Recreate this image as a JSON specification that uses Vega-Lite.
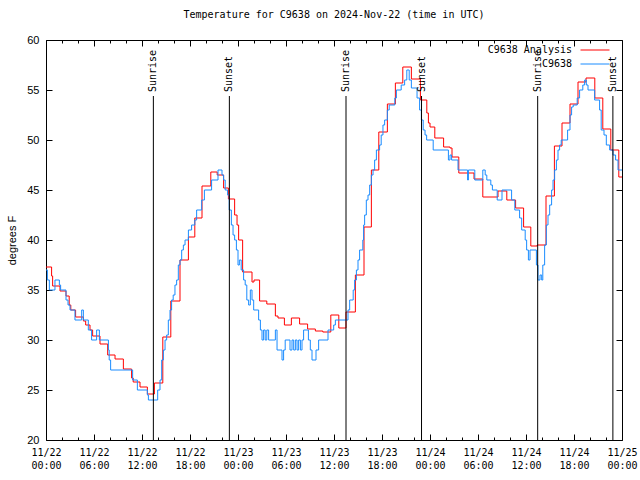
{
  "$schema": "https://vega.github.io/schema/vega-lite/v6.json",
  "width": 576,
  "height": 400,
  "autosize": {"type": "none"},
  "padding": {"left": 46, "top": 40, "right": 18, "bottom": 40},
  "background": "white",
  "title": {"text": "Temperature for C9638 on 2024-Nov-22 (time in UTC)", "font": "DejaVu Sans Mono", "fontSize": 10, "fontWeight": "normal", "color": "black", "offset": 14, "anchor": "middle"},
  "config": {
    "view": {"stroke": "black", "strokeWidth": 1},
    "axis": {"grid": false, "domain": false, "tickColor": "black", "labelColor": "black", "titleColor": "black"}
  },
  "datasets": {
    "analysis": [
      {"series": "C9638 Analysis", "hour": 0, "temp": 37.3},
      {"series": "C9638 Analysis", "hour": 0.7, "temp": 36.4},
      {"series": "C9638 Analysis", "hour": 0.83, "temp": 35.4},
      {"series": "C9638 Analysis", "hour": 1.75, "temp": 34.9},
      {"series": "C9638 Analysis", "hour": 2.5, "temp": 34.4},
      {"series": "C9638 Analysis", "hour": 2.9, "temp": 33.5},
      {"series": "C9638 Analysis", "hour": 3.1, "temp": 33.0},
      {"series": "C9638 Analysis", "hour": 3.7, "temp": 32.3},
      {"series": "C9638 Analysis", "hour": 4.67, "temp": 31.9},
      {"series": "C9638 Analysis", "hour": 4.96, "temp": 31.5},
      {"series": "C9638 Analysis", "hour": 5.5, "temp": 31.0},
      {"series": "C9638 Analysis", "hour": 5.83, "temp": 30.4},
      {"series": "C9638 Analysis", "hour": 6.75, "temp": 29.6},
      {"series": "C9638 Analysis", "hour": 7.71, "temp": 28.5},
      {"series": "C9638 Analysis", "hour": 8.63, "temp": 28.1},
      {"series": "C9638 Analysis", "hour": 9.67, "temp": 27.1},
      {"series": "C9638 Analysis", "hour": 10.7, "temp": 26.2},
      {"series": "C9638 Analysis", "hour": 10.9, "temp": 25.8},
      {"series": "C9638 Analysis", "hour": 11.75, "temp": 25.3},
      {"series": "C9638 Analysis", "hour": 12.67, "temp": 24.6},
      {"series": "C9638 Analysis", "hour": 13.55, "temp": 25.7},
      {"series": "C9638 Analysis", "hour": 14.6, "temp": 30.3},
      {"series": "C9638 Analysis", "hour": 15.6, "temp": 33.9},
      {"series": "C9638 Analysis", "hour": 16.75, "temp": 38.0},
      {"series": "C9638 Analysis", "hour": 17.8, "temp": 40.3},
      {"series": "C9638 Analysis", "hour": 18.6, "temp": 42.2},
      {"series": "C9638 Analysis", "hour": 19.5, "temp": 45.4},
      {"series": "C9638 Analysis", "hour": 20.6, "temp": 46.8},
      {"series": "C9638 Analysis", "hour": 21.4, "temp": 46.5},
      {"series": "C9638 Analysis", "hour": 22.2, "temp": 45.2},
      {"series": "C9638 Analysis", "hour": 22.8, "temp": 44.1},
      {"series": "C9638 Analysis", "hour": 23.58, "temp": 42.5},
      {"series": "C9638 Analysis", "hour": 23.88, "temp": 41.5},
      {"series": "C9638 Analysis", "hour": 24.08, "temp": 40.0},
      {"series": "C9638 Analysis", "hour": 24.58, "temp": 36.8},
      {"series": "C9638 Analysis", "hour": 25.75, "temp": 35.8},
      {"series": "C9638 Analysis", "hour": 26.0, "temp": 36.0},
      {"series": "C9638 Analysis", "hour": 26.7, "temp": 33.9},
      {"series": "C9638 Analysis", "hour": 27.6, "temp": 33.6},
      {"series": "C9638 Analysis", "hour": 28.67, "temp": 32.4},
      {"series": "C9638 Analysis", "hour": 29.0, "temp": 32.2},
      {"series": "C9638 Analysis", "hour": 29.8, "temp": 31.5},
      {"series": "C9638 Analysis", "hour": 30.67, "temp": 32.2},
      {"series": "C9638 Analysis", "hour": 31.7, "temp": 31.6},
      {"series": "C9638 Analysis", "hour": 32.7, "temp": 31.1},
      {"series": "C9638 Analysis", "hour": 33.67, "temp": 30.9},
      {"series": "C9638 Analysis", "hour": 34.6, "temp": 30.8},
      {"series": "C9638 Analysis", "hour": 35.6, "temp": 32.5},
      {"series": "C9638 Analysis", "hour": 36.6, "temp": 31.2},
      {"series": "C9638 Analysis", "hour": 37.5, "temp": 32.8},
      {"series": "C9638 Analysis", "hour": 38.67, "temp": 36.5},
      {"series": "C9638 Analysis", "hour": 39.75, "temp": 41.3},
      {"series": "C9638 Analysis", "hour": 40.67, "temp": 47.0},
      {"series": "C9638 Analysis", "hour": 41.6, "temp": 50.8},
      {"series": "C9638 Analysis", "hour": 42.67, "temp": 53.6},
      {"series": "C9638 Analysis", "hour": 43.67, "temp": 55.7},
      {"series": "C9638 Analysis", "hour": 44.6, "temp": 57.3},
      {"series": "C9638 Analysis", "hour": 45.67, "temp": 56.1},
      {"series": "C9638 Analysis", "hour": 46.8, "temp": 54.0},
      {"series": "C9638 Analysis", "hour": 47.6, "temp": 52.7},
      {"series": "C9638 Analysis", "hour": 47.8, "temp": 51.7},
      {"series": "C9638 Analysis", "hour": 48.0, "temp": 51.3},
      {"series": "C9638 Analysis", "hour": 48.6, "temp": 50.2},
      {"series": "C9638 Analysis", "hour": 49.7, "temp": 49.3},
      {"series": "C9638 Analysis", "hour": 50.5, "temp": 49.2},
      {"series": "C9638 Analysis", "hour": 50.75, "temp": 48.3},
      {"series": "C9638 Analysis", "hour": 51.6, "temp": 46.7},
      {"series": "C9638 Analysis", "hour": 53.5, "temp": 46.1},
      {"series": "C9638 Analysis", "hour": 54.6, "temp": 44.3},
      {"series": "C9638 Analysis", "hour": 56.5, "temp": 44.9},
      {"series": "C9638 Analysis", "hour": 57.6, "temp": 44.0},
      {"series": "C9638 Analysis", "hour": 58.7, "temp": 43.2},
      {"series": "C9638 Analysis", "hour": 59.7, "temp": 41.3},
      {"series": "C9638 Analysis", "hour": 60.6, "temp": 39.4},
      {"series": "C9638 Analysis", "hour": 61.4, "temp": 39.5},
      {"series": "C9638 Analysis", "hour": 62.5, "temp": 44.4},
      {"series": "C9638 Analysis", "hour": 63.55, "temp": 49.4},
      {"series": "C9638 Analysis", "hour": 64.5, "temp": 51.7},
      {"series": "C9638 Analysis", "hour": 65.5, "temp": 53.6},
      {"series": "C9638 Analysis", "hour": 66.5, "temp": 55.8},
      {"series": "C9638 Analysis", "hour": 67.5, "temp": 56.2},
      {"series": "C9638 Analysis", "hour": 68.6, "temp": 54.2},
      {"series": "C9638 Analysis", "hour": 69.6, "temp": 51.1},
      {"series": "C9638 Analysis", "hour": 70.6, "temp": 49.0},
      {"series": "C9638 Analysis", "hour": 71.6, "temp": 46.3},
      {"series": "C9638 Analysis", "hour": 72, "temp": 46.3}
    ],
    "obs": [
      {"series": "C9638", "hour": 0, "temp": 37},
      {"series": "C9638", "hour": 0.17, "temp": 36},
      {"series": "C9638", "hour": 0.42, "temp": 35},
      {"series": "C9638", "hour": 1.12, "temp": 36},
      {"series": "C9638", "hour": 1.67, "temp": 35.5},
      {"series": "C9638", "hour": 1.83, "temp": 35},
      {"series": "C9638", "hour": 2.5, "temp": 34},
      {"series": "C9638", "hour": 2.75, "temp": 33.5},
      {"series": "C9638", "hour": 3.0, "temp": 33},
      {"series": "C9638", "hour": 3.62, "temp": 32},
      {"series": "C9638", "hour": 4.46, "temp": 33},
      {"series": "C9638", "hour": 4.67, "temp": 32},
      {"series": "C9638", "hour": 5.29, "temp": 31},
      {"series": "C9638", "hour": 5.7, "temp": 30},
      {"series": "C9638", "hour": 6.33, "temp": 31},
      {"series": "C9638", "hour": 6.67, "temp": 30},
      {"series": "C9638", "hour": 7.8, "temp": 29},
      {"series": "C9638", "hour": 7.9, "temp": 28},
      {"series": "C9638", "hour": 8.08, "temp": 27},
      {"series": "C9638", "hour": 10.83, "temp": 26},
      {"series": "C9638", "hour": 11.42, "temp": 25},
      {"series": "C9638", "hour": 12.67, "temp": 24.5},
      {"series": "C9638", "hour": 12.8, "temp": 24},
      {"series": "C9638", "hour": 13.96, "temp": 25},
      {"series": "C9638", "hour": 14.25, "temp": 26},
      {"series": "C9638", "hour": 14.46, "temp": 28},
      {"series": "C9638", "hour": 14.67, "temp": 29},
      {"series": "C9638", "hour": 14.88, "temp": 30},
      {"series": "C9638", "hour": 15.08, "temp": 30.5},
      {"series": "C9638", "hour": 15.29, "temp": 32},
      {"series": "C9638", "hour": 15.5, "temp": 33},
      {"series": "C9638", "hour": 15.7, "temp": 34},
      {"series": "C9638", "hour": 15.9, "temp": 34.5},
      {"series": "C9638", "hour": 16.12, "temp": 35.5},
      {"series": "C9638", "hour": 16.33, "temp": 36},
      {"series": "C9638", "hour": 16.54, "temp": 37.5},
      {"series": "C9638", "hour": 16.75, "temp": 38},
      {"series": "C9638", "hour": 16.96, "temp": 39},
      {"series": "C9638", "hour": 17.17, "temp": 39.5},
      {"series": "C9638", "hour": 17.38, "temp": 40},
      {"series": "C9638", "hour": 17.8, "temp": 41},
      {"series": "C9638", "hour": 18.2, "temp": 41.5},
      {"series": "C9638", "hour": 18.6, "temp": 42},
      {"series": "C9638", "hour": 18.83, "temp": 43},
      {"series": "C9638", "hour": 19.46, "temp": 44},
      {"series": "C9638", "hour": 19.8, "temp": 45},
      {"series": "C9638", "hour": 20.7, "temp": 46},
      {"series": "C9638", "hour": 21.5, "temp": 47},
      {"series": "C9638", "hour": 22.0, "temp": 46.5},
      {"series": "C9638", "hour": 22.2, "temp": 46},
      {"series": "C9638", "hour": 22.4, "temp": 45},
      {"series": "C9638", "hour": 22.7, "temp": 44.5},
      {"series": "C9638", "hour": 22.9, "temp": 43},
      {"series": "C9638", "hour": 23.17, "temp": 41.5},
      {"series": "C9638", "hour": 23.38, "temp": 40.5},
      {"series": "C9638", "hour": 23.58, "temp": 40},
      {"series": "C9638", "hour": 23.8, "temp": 39},
      {"series": "C9638", "hour": 24.0, "temp": 37.5},
      {"series": "C9638", "hour": 24.17, "temp": 38},
      {"series": "C9638", "hour": 24.4, "temp": 37},
      {"series": "C9638", "hour": 24.7, "temp": 36},
      {"series": "C9638", "hour": 24.9, "temp": 35.5},
      {"series": "C9638", "hour": 25.1, "temp": 34},
      {"series": "C9638", "hour": 25.33, "temp": 33.5},
      {"series": "C9638", "hour": 25.54, "temp": 35},
      {"series": "C9638", "hour": 25.75, "temp": 34},
      {"series": "C9638", "hour": 25.96, "temp": 33},
      {"series": "C9638", "hour": 26.58, "temp": 32},
      {"series": "C9638", "hour": 26.8, "temp": 31},
      {"series": "C9638", "hour": 27.0, "temp": 30},
      {"series": "C9638", "hour": 27.2, "temp": 31},
      {"series": "C9638", "hour": 27.4, "temp": 30},
      {"series": "C9638", "hour": 27.6, "temp": 31},
      {"series": "C9638", "hour": 27.83, "temp": 30},
      {"series": "C9638", "hour": 28.67, "temp": 31},
      {"series": "C9638", "hour": 28.88, "temp": 29},
      {"series": "C9638", "hour": 29.5, "temp": 28},
      {"series": "C9638", "hour": 29.7, "temp": 29},
      {"series": "C9638", "hour": 29.9, "temp": 30},
      {"series": "C9638", "hour": 30.5, "temp": 29},
      {"series": "C9638", "hour": 30.75, "temp": 30},
      {"series": "C9638", "hour": 30.96, "temp": 29},
      {"series": "C9638", "hour": 31.17, "temp": 30},
      {"series": "C9638", "hour": 31.38, "temp": 29},
      {"series": "C9638", "hour": 31.58, "temp": 30},
      {"series": "C9638", "hour": 31.8, "temp": 29},
      {"series": "C9638", "hour": 32.0, "temp": 30},
      {"series": "C9638", "hour": 32.2, "temp": 31},
      {"series": "C9638", "hour": 32.8, "temp": 30},
      {"series": "C9638", "hour": 33.04, "temp": 29},
      {"series": "C9638", "hour": 33.25, "temp": 28},
      {"series": "C9638", "hour": 33.75, "temp": 29},
      {"series": "C9638", "hour": 34.08, "temp": 30},
      {"series": "C9638", "hour": 35.25, "temp": 31},
      {"series": "C9638", "hour": 35.96, "temp": 31.5},
      {"series": "C9638", "hour": 36.17, "temp": 32},
      {"series": "C9638", "hour": 37.75, "temp": 33},
      {"series": "C9638", "hour": 37.96, "temp": 34},
      {"series": "C9638", "hour": 38.4, "temp": 35},
      {"series": "C9638", "hour": 38.58, "temp": 36},
      {"series": "C9638", "hour": 38.8, "temp": 37},
      {"series": "C9638", "hour": 39.0, "temp": 38},
      {"series": "C9638", "hour": 39.2, "temp": 39},
      {"series": "C9638", "hour": 39.6, "temp": 40},
      {"series": "C9638", "hour": 39.7, "temp": 41.5},
      {"series": "C9638", "hour": 39.83, "temp": 42.5},
      {"series": "C9638", "hour": 40.04, "temp": 44},
      {"series": "C9638", "hour": 40.25, "temp": 44.5},
      {"series": "C9638", "hour": 40.46, "temp": 45.5},
      {"series": "C9638", "hour": 40.67, "temp": 46.5},
      {"series": "C9638", "hour": 40.88, "temp": 47},
      {"series": "C9638", "hour": 41.08, "temp": 48},
      {"series": "C9638", "hour": 41.3, "temp": 49},
      {"series": "C9638", "hour": 41.7, "temp": 49.5},
      {"series": "C9638", "hour": 41.9, "temp": 50.5},
      {"series": "C9638", "hour": 42.12, "temp": 51.5},
      {"series": "C9638", "hour": 42.33, "temp": 52},
      {"series": "C9638", "hour": 42.67, "temp": 53},
      {"series": "C9638", "hour": 42.9, "temp": 53.5},
      {"series": "C9638", "hour": 43.6, "temp": 54.2},
      {"series": "C9638", "hour": 43.8, "temp": 55},
      {"series": "C9638", "hour": 44.4, "temp": 55.5},
      {"series": "C9638", "hour": 44.83, "temp": 56},
      {"series": "C9638", "hour": 45.1, "temp": 57},
      {"series": "C9638", "hour": 45.4, "temp": 56},
      {"series": "C9638", "hour": 45.67, "temp": 55.2},
      {"series": "C9638", "hour": 46.38, "temp": 54.2},
      {"series": "C9638", "hour": 46.7, "temp": 53},
      {"series": "C9638", "hour": 46.92, "temp": 52},
      {"series": "C9638", "hour": 47.15, "temp": 51},
      {"series": "C9638", "hour": 47.38, "temp": 50.5},
      {"series": "C9638", "hour": 47.58, "temp": 50},
      {"series": "C9638", "hour": 48.4, "temp": 49},
      {"series": "C9638", "hour": 50.3, "temp": 48},
      {"series": "C9638", "hour": 50.5, "temp": 48.5},
      {"series": "C9638", "hour": 50.7, "temp": 48},
      {"series": "C9638", "hour": 51.5, "temp": 47},
      {"series": "C9638", "hour": 52.7, "temp": 46},
      {"series": "C9638", "hour": 52.8, "temp": 47},
      {"series": "C9638", "hour": 53.6, "temp": 46},
      {"series": "C9638", "hour": 54.6, "temp": 47},
      {"series": "C9638", "hour": 54.9, "temp": 46.5},
      {"series": "C9638", "hour": 55.1, "temp": 46},
      {"series": "C9638", "hour": 55.6, "temp": 45.5},
      {"series": "C9638", "hour": 55.8, "temp": 45},
      {"series": "C9638", "hour": 56.4, "temp": 44},
      {"series": "C9638", "hour": 57.0, "temp": 45},
      {"series": "C9638", "hour": 58.2, "temp": 44},
      {"series": "C9638", "hour": 58.6, "temp": 43},
      {"series": "C9638", "hour": 59.2, "temp": 42.2},
      {"series": "C9638", "hour": 59.46, "temp": 41},
      {"series": "C9638", "hour": 59.9, "temp": 40},
      {"series": "C9638", "hour": 60.08, "temp": 39},
      {"series": "C9638", "hour": 60.3, "temp": 38},
      {"series": "C9638", "hour": 60.5, "temp": 39},
      {"series": "C9638", "hour": 61.3, "temp": 37.5},
      {"series": "C9638", "hour": 61.5, "temp": 36},
      {"series": "C9638", "hour": 61.75, "temp": 36.5},
      {"series": "C9638", "hour": 61.96, "temp": 36},
      {"series": "C9638", "hour": 62.1, "temp": 37.5},
      {"series": "C9638", "hour": 62.33, "temp": 39.5},
      {"series": "C9638", "hour": 62.54, "temp": 41.5},
      {"series": "C9638", "hour": 62.75, "temp": 42.5},
      {"series": "C9638", "hour": 62.96, "temp": 43.5},
      {"series": "C9638", "hour": 63.2, "temp": 45},
      {"series": "C9638", "hour": 63.38, "temp": 46},
      {"series": "C9638", "hour": 63.58, "temp": 47},
      {"series": "C9638", "hour": 63.8, "temp": 48},
      {"series": "C9638", "hour": 64.0, "temp": 49},
      {"series": "C9638", "hour": 64.2, "temp": 49.5},
      {"series": "C9638", "hour": 64.4, "temp": 50},
      {"series": "C9638", "hour": 65.2, "temp": 51},
      {"series": "C9638", "hour": 65.5, "temp": 52.5},
      {"series": "C9638", "hour": 65.7, "temp": 53.3},
      {"series": "C9638", "hour": 65.9, "temp": 53.5},
      {"series": "C9638", "hour": 66.4, "temp": 54.2},
      {"series": "C9638", "hour": 66.7, "temp": 55},
      {"series": "C9638", "hour": 67.1, "temp": 55.5},
      {"series": "C9638", "hour": 67.33, "temp": 56},
      {"series": "C9638", "hour": 67.54, "temp": 55.5},
      {"series": "C9638", "hour": 67.75, "temp": 55},
      {"series": "C9638", "hour": 68.58, "temp": 54},
      {"series": "C9638", "hour": 69.2, "temp": 53},
      {"series": "C9638", "hour": 69.4, "temp": 51},
      {"series": "C9638", "hour": 69.75, "temp": 50.5},
      {"series": "C9638", "hour": 70.04, "temp": 49.5},
      {"series": "C9638", "hour": 70.46, "temp": 49},
      {"series": "C9638", "hour": 70.88, "temp": 48.5},
      {"series": "C9638", "hour": 71.2, "temp": 48},
      {"series": "C9638", "hour": 71.5, "temp": 47},
      {"series": "C9638", "hour": 72, "temp": 47}
    ],
    "sun": [
      {"event": "Sunrise", "hour": 13.42},
      {"event": "Sunset", "hour": 22.92},
      {"event": "Sunrise", "hour": 37.5},
      {"event": "Sunset", "hour": 46.94},
      {"event": "Sunrise", "hour": 61.46},
      {"event": "Sunset", "hour": 70.86}
    ]
  },
  "layer": [
    {
      "data": {"name": "analysis"},
      "mark": {"type": "line", "interpolate": "step-after", "strokeWidth": 1},
      "encoding": {
        "x": {"field": "hour", "type": "quantitative",
          "scale": {"domain": [0, 72], "nice": false, "zero": false},
          "axis": {"orient": "bottom", "title": null, "ticks": false, "domain": false,
            "values": [0, 6, 12, 18, 24, 30, 36, 42, 48, 54, 60, 66, 72],
            "labelExpr": "['11/' + (22 + floor(datum.value / 24)), ((datum.value % 24) < 10 ? '0' : '') + (datum.value % 24) + ':00']",
            "labelFont": "DejaVu Sans Mono", "labelFontSize": 10, "labelLineHeight": 13, "labelPadding": 7, "labelFlush": false, "labelOverlap": false}},
        "y": {"field": "temp", "type": "quantitative",
          "scale": {"domain": [20, 60], "nice": false, "zero": false},
          "axis": {"orient": "left", "title": "degrees F", "ticks": false, "domain": false,
            "values": [20, 25, 30, 35, 40, 45, 50, 55, 60],
            "labelFont": "Liberation Sans", "labelFontSize": 11, "labelPadding": 7,
            "titleFont": "Liberation Sans", "titleFontSize": 11, "titleFontWeight": "normal", "titlePadding": 9}},
        "color": {"field": "series", "type": "nominal",
          "scale": {"domain": ["C9638 Analysis", "C9638"], "range": ["#ff0000", "#1a8cff"]},
          "legend": {"orient": "none", "legendX": 544, "legendY": 5, "title": null, "padding": 0,
            "symbolType": "M-14.5,0H14.5", "symbolSize": 4, "symbolStrokeWidth": 1,
            "rowPadding": 4,
            "labelAlign": "right", "labelOffset": -28, "labelFont": "DejaVu Sans Mono", "labelFontSize": 10, "labelColor": "black"}}
      }
    },
    {
      "data": {"name": "obs"},
      "mark": {"type": "line", "interpolate": "step-after", "strokeWidth": 1},
      "encoding": {
        "x": {"field": "hour", "type": "quantitative",
          "axis": {"orient": "bottom", "title": null, "labels": false, "domain": false,
            "values": [0, 2, 4, 6, 8, 10, 12, 14, 16, 18, 20, 22, 24, 26, 28, 30, 32, 34, 36, 38, 40, 42, 44, 46, 48, 50, 52, 54, 56, 58, 60, 62, 64, 66, 68, 70, 72],
            "tickSize": {"condition": {"test": "datum.value % 6 === 0", "value": -6}, "value": -3}}},
        "y": {"field": "temp", "type": "quantitative",
          "axis": {"orient": "left", "title": null, "labels": false, "domain": false,
            "values": [20, 25, 30, 35, 40, 45, 50, 55, 60], "tickSize": -6}},
        "color": {"field": "series", "type": "nominal"}
      }
    },
    {
      "data": {"name": "sun"},
      "mark": {"type": "rule", "color": "black", "strokeWidth": 1},
      "encoding": {
        "x": {"field": "hour", "type": "quantitative",
          "axis": {"orient": "top", "title": null, "labels": false, "domain": false,
            "values": [0, 2, 4, 6, 8, 10, 12, 14, 16, 18, 20, 22, 24, 26, 28, 30, 32, 34, 36, 38, 40, 42, 44, 46, 48, 50, 52, 54, 56, 58, 60, 62, 64, 66, 68, 70, 72],
            "tickSize": {"condition": {"test": "datum.value % 6 === 0", "value": -6}, "value": -3}}},
        "y": {"datum": 54.4, "type": "quantitative",
          "axis": {"orient": "right", "title": null, "labels": false, "domain": false,
            "values": [20, 25, 30, 35, 40, 45, 50, 55, 60], "tickSize": -6}},
        "y2": {"datum": 20}
      }
    },
    {
      "data": {"name": "sun"},
      "mark": {"type": "text", "angle": 270, "align": "left", "baseline": "middle", "font": "DejaVu Sans Mono", "fontSize": 10, "color": "black", "dx": 0},
      "encoding": {
        "x": {"field": "hour", "type": "quantitative", "axis": null},
        "y": {"datum": 54.8, "type": "quantitative", "axis": null},
        "text": {"field": "event"}
      }
    }
  ],
  "resolve": {"axis": {"x": "independent", "y": "independent"}}
}
